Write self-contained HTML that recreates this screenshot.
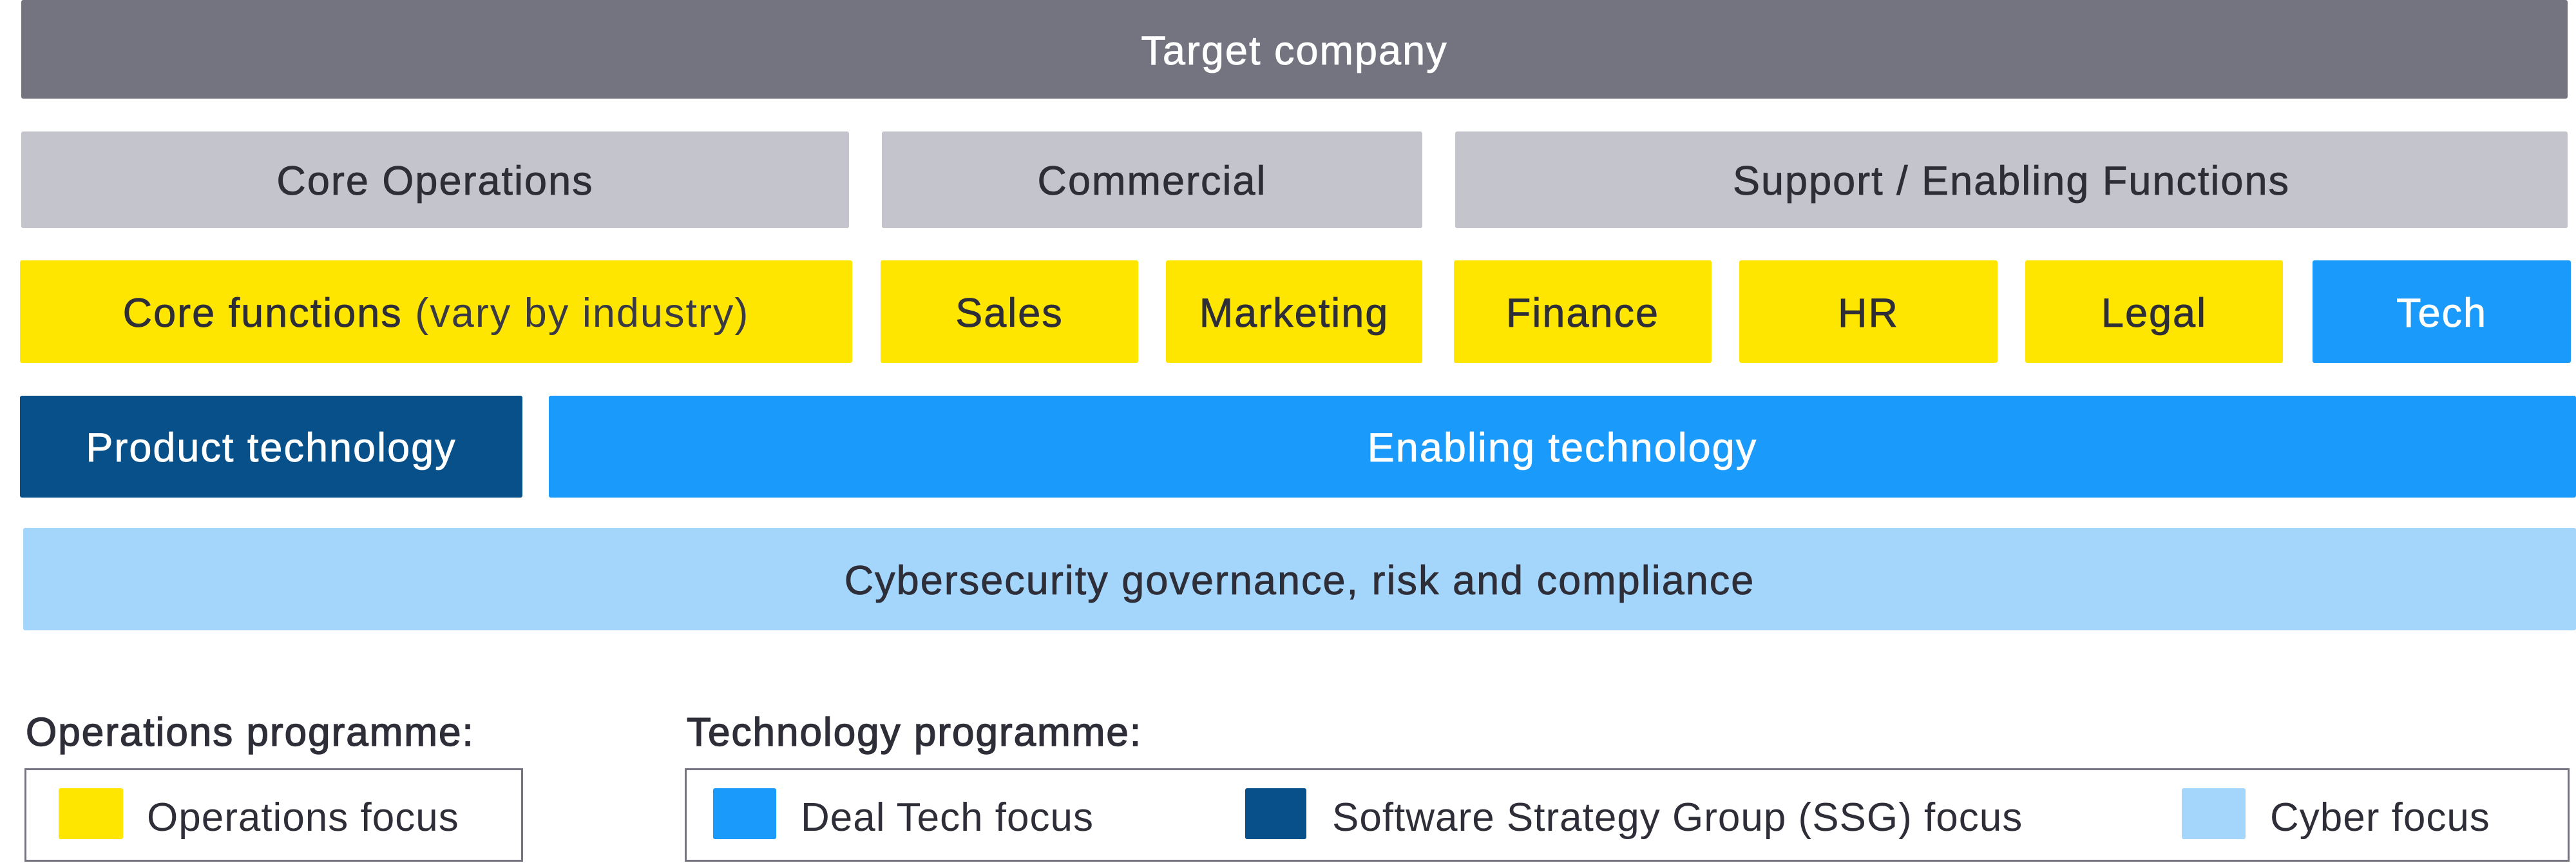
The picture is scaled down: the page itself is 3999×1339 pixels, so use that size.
<!DOCTYPE html>
<html><head><meta charset="utf-8"><style>
html,body{margin:0;padding:0;background:#fff;}
body{width:3999px;height:1339px;position:relative;overflow:hidden;font-family:"Liberation Sans",sans-serif;}
.b{position:absolute;display:flex;align-items:center;justify-content:center;font-size:63px;letter-spacing:2px;color:#2E2E38;border-radius:3px;white-space:nowrap;-webkit-text-stroke:0.8px currentColor;padding-top:4px;box-sizing:border-box;}
.g{background:#747480;color:#fff;}
.l{background:#C4C4CD;}
.y{background:#FFE600;}
.bl{background:#1A9AFA;color:#fff;}
.db{background:#07508A;color:#fff;}
.lb{background:#A4D6FC;}
.t{position:absolute;font-size:62px;letter-spacing:2px;color:#2E2E38;white-space:nowrap;line-height:1;}
.i{letter-spacing:1px;}
.h{-webkit-text-stroke:1.4px #2E2E38;}
.box{position:absolute;border:3px solid #747480;box-sizing:border-box;}
.sw{position:absolute;border-radius:3px;}
.lt{-webkit-text-stroke:0;color:#3a3a44;}
</style></head><body>
<div class="b g" style="left:33px;top:0;width:3953px;height:153px;">Target company</div>

<div class="b l" style="left:33px;top:204px;width:1285px;height:150px;">Core Operations</div>
<div class="b l" style="left:1369px;top:204px;width:839px;height:150px;">Commercial</div>
<div class="b l" style="left:2259px;top:204px;width:1727px;height:150px;">Support / Enabling Functions</div>

<div class="b y" style="left:31px;top:404px;width:1292px;height:159px;">Core functions&nbsp;<span class="lt">(vary by industry)</span></div>
<div class="b y" style="left:1367px;top:404px;width:400px;height:159px;">Sales</div>
<div class="b y" style="left:1810px;top:404px;width:398px;height:159px;">Marketing</div>
<div class="b y" style="left:2257px;top:404px;width:400px;height:159px;">Finance</div>
<div class="b y" style="left:2700px;top:404px;width:401px;height:159px;">HR</div>
<div class="b y" style="left:3144px;top:404px;width:400px;height:159px;">Legal</div>
<div class="b bl" style="left:3590px;top:404px;width:401px;height:159px;">Tech</div>

<div class="b db" style="left:31px;top:614px;width:780px;height:158px;">Product technology</div>
<div class="b bl" style="left:852px;top:614px;width:3147px;height:158px;">Enabling technology</div>

<div class="b lb" style="left:36px;top:819px;width:3963px;height:159px;">Cybersecurity governance, risk and compliance</div>

<div class="t h" style="left:40px;top:1106px;">Operations programme:</div>
<div class="t h" style="left:1066px;top:1106px;">Technology programme:</div>

<div class="box" style="left:38px;top:1192px;width:774px;height:145px;"></div>
<div class="box" style="left:1063px;top:1192px;width:2926px;height:145px;"></div>

<div class="sw" style="left:91px;top:1223px;width:100px;height:79px;background:#FFE600;"></div>
<div class="t i" style="left:228px;top:1238px;">Operations focus</div>

<div class="sw" style="left:1107px;top:1223px;width:98px;height:79px;background:#1A9AFA;"></div>
<div class="t i" style="left:1243px;top:1238px;">Deal Tech focus</div>

<div class="sw" style="left:1933px;top:1223px;width:95px;height:79px;background:#07508A;"></div>
<div class="t i" style="left:2068px;top:1238px;">Software Strategy Group (SSG) focus</div>

<div class="sw" style="left:3387px;top:1223px;width:99px;height:79px;background:#A4D6FC;"></div>
<div class="t i" style="left:3524px;top:1238px;">Cyber focus</div>
</body></html>
